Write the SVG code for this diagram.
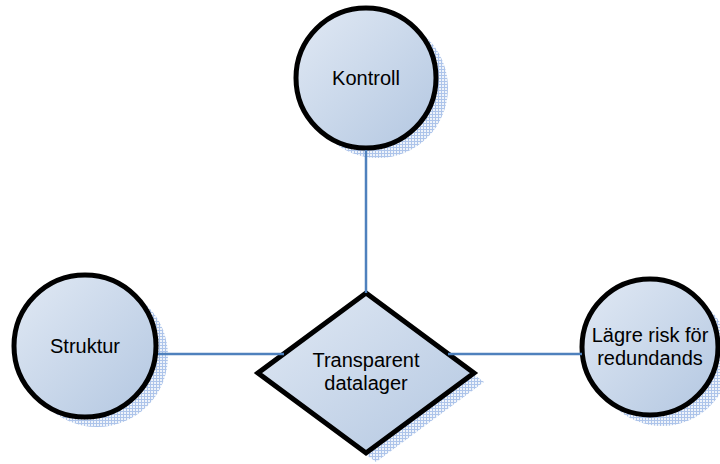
<svg xmlns="http://www.w3.org/2000/svg" width="720" height="464" viewBox="0 0 720 464">
  <defs>
    <linearGradient id="nodeFill" x1="0" y1="0" x2="1" y2="1">
      <stop offset="0" stop-color="#e1e9f4"/>
      <stop offset="1" stop-color="#b3c7e1"/>
    </linearGradient>
    <pattern id="hatch" width="3" height="3" patternUnits="userSpaceOnUse">
      <rect width="3" height="3" fill="#eef3fa"/>
      <rect width="1" height="3" fill="#adc4ea"/>
      <rect width="3" height="1" fill="#adc4ea"/>
    </pattern>
    <style>
      .shadow { fill: url(#hatch); }
      .node { fill: url(#nodeFill); stroke: #000; stroke-width: 5; }
      .link { stroke: #4f81bd; stroke-width: 2.5; fill: none; }
      .label { font-family: "Liberation Sans", Arial, sans-serif; font-size: 20px; fill: #000; text-anchor: middle; }
    </style>
  </defs>
  <rect width="720" height="464" fill="#fff"/>

  <g id="kontroll">
    <circle class="shadow" cx="378" cy="88" r="70"/>
    <circle class="node" cx="366" cy="78" r="70"/>
    <text class="label" x="366" y="85">Kontroll</text>
  </g>

  <g id="struktur">
    <circle class="shadow" cx="97" cy="356" r="71"/>
    <circle class="node" cx="85" cy="346" r="71"/>
    <text class="label" x="85" y="353">Struktur</text>
  </g>

  <g id="lagre-risk">
    <circle class="shadow" cx="662" cy="358" r="68"/>
    <circle class="node" cx="650" cy="347" r="68"/>
    <text class="label" x="650" y="342">Lägre risk för</text>
    <text class="label" x="650" y="365">redundands</text>
  </g>

  <g id="transparent-datalager">
    <polygon class="shadow" points="376,302 484,382 376,462 268,382"/>
    <polygon class="node" points="366,293 474,373 366,453 258,373"/>
    <text class="label" x="366" y="367">Transparent</text>
    <text class="label" x="366" y="390">datalager</text>
  </g>

  <!-- connectors, drawn edge to edge on top of the shadows -->
  <g id="connectors">
    <line class="link" x1="366" y1="150" x2="366" y2="293"/>
    <line class="link" x1="158" y1="354" x2="284" y2="354"/>
    <line class="link" x1="448" y1="354" x2="582" y2="354"/>
  </g>
</svg>
